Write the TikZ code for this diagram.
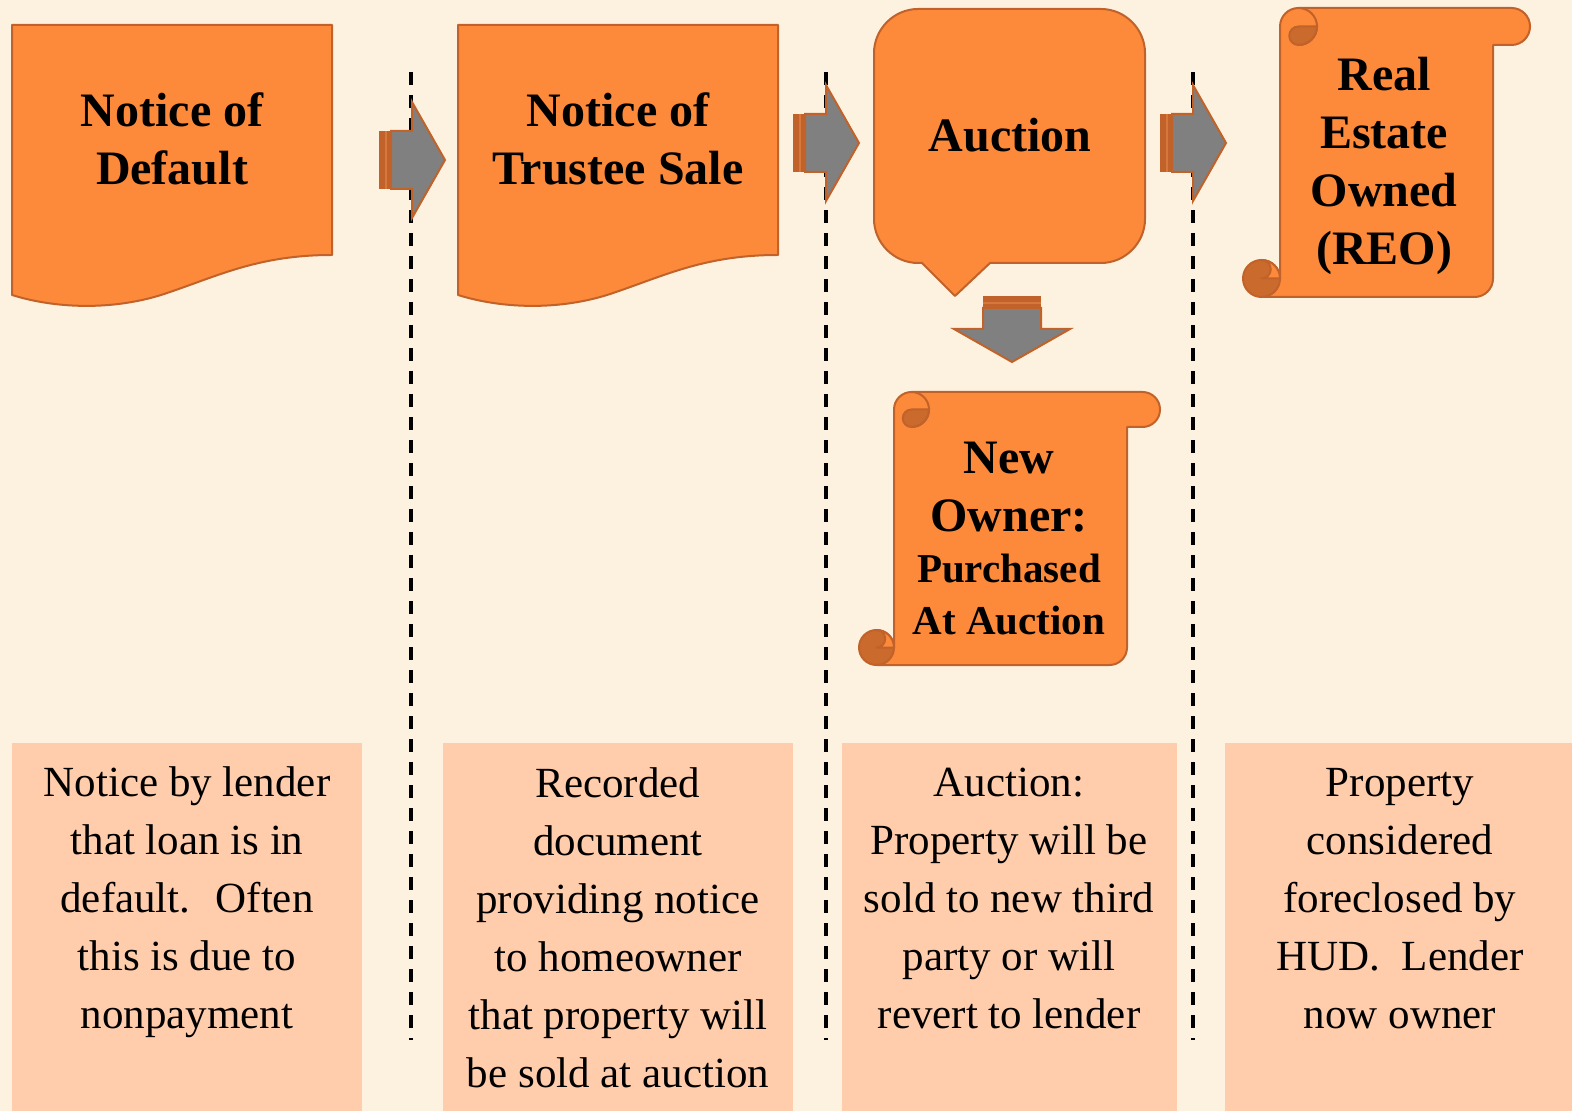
\documentclass[tikz,border=0pt]{standalone}
\usepackage{fontspec}
\setmainfont{Liberation Serif}
\definecolor{bgcol}{RGB}{252,242,223}
\definecolor{orangefill}{RGB}{253,137,58}
\definecolor{edgebrown}{RGB}{192,98,42}
\definecolor{curldark}{RGB}{203,106,45}
\definecolor{peach}{RGB}{255,205,171}
\definecolor{arrowgray}{RGB}{128,128,128}
\definecolor{stripelight}{RGB}{214,120,60}
\tikzset{
  shapestyle/.style={fill=orangefill, draw=edgebrown, line width=1pt, line join=round},
  curlstyle/.style={fill=curldark, draw=edgebrown, line width=1pt},
  edgestyle/.style={draw=edgebrown, line width=1pt},
  titletext/.style={font=\fontsize{24}{29}\selectfont\bfseries, align=center, text=black},
  smalltitle/.style={font=\fontsize{20.5}{26}\selectfont\bfseries, align=center, text=black},
  bodytext/.style={font=\fontsize{21.5}{29}\selectfont, align=center, text=black},
  divider/.style={black, line width=1.6pt, dash pattern=on 6.5pt off 5pt},
  infobox/.style={fill=peach, draw=none},
  docpic/.pic={
    \filldraw[shapestyle] (0,0) -- (320,0) -- (320,230)
      .. controls (248,230) and (208,250) .. (158,267)
      .. controls (108,285) and (48,285) .. (0,270) -- cycle;
  },
  blockarrow/.pic={
    \fill[edgebrown] (0,-29) rectangle (12,29);
    \draw[stripelight, line width=0.7pt] (7,-29) -- (7,29);
    \filldraw[fill=arrowgray, draw=edgebrown, line width=1pt, line join=miter]
      (12,-29) -- (33,-29) -- (33,-58) -- (66,0) -- (33,58) -- (33,29) -- (12,29) -- cycle;
  }
}
\newcommand{\scrollshape}[6]{% L R T B E r
  \pgfmathsetmacro\rr{#6/2}%
  \pgfmathsetmacro\rh{#6/4}%
  \filldraw[shapestyle] (#1,{#4-#6}) -- (#1,{#3+#6}) arc[start angle=180,end angle=90,radius=\rr pt]
    -- ({#5-#6},#3) arc[start angle=90,end angle=-90,radius=\rr pt]
    -- (#2,{#3+2*#6}) -- (#2,{#4-#6}) arc[start angle=0,end angle=-90,radius=\rr pt]
    -- ({#1-#6},#4) -- cycle;
  \filldraw[curlstyle] ({#1+2*#6},{#3+#6}) arc[start angle=0,end angle=-90,radius=\rr pt]
    arc[start angle=270,end angle=90,radius=\rh pt] -- cycle;
  \draw[edgestyle] ({#1+#6},#3) arc[start angle=90,end angle=-90,radius=\rr pt];
  \filldraw[curlstyle] ({#1-#6},{#4-#6}) circle[radius=\rr pt];
  \filldraw[shapestyle] ({#1-#6},{#4-2*#6}) arc[start angle=90,end angle=0,radius=\rr pt]
    -- ({#1-#6},{#4-#6}) arc[start angle=-90,end angle=90,radius=\rh pt] -- cycle;
}
\begin{document}
\begin{tikzpicture}[x=0.5pt, y=-0.5pt]
  \path[use as bounding box] (0,0) rectangle (1572,1111);
  \fill[bgcol] (0,0) rectangle (1572,1111);

  % info boxes
  \fill[infobox] (12,743) rectangle (362,1111);
  \fill[infobox] (443,743) rectangle (793,1111);
  \fill[infobox] (842,743) rectangle (1177,1111);
  \fill[infobox] (1225,743) rectangle (1572,1111);

  % dividers
  \coordinate (d1t) at (411,72);  \coordinate (d1b) at (411,1040);
  \coordinate (d2t) at (826,72);  \coordinate (d2b) at (826,1040);
  \coordinate (d3t) at (1193,72); \coordinate (d3b) at (1193,1040);
  \draw[divider] (d1t) -- (d1b);
  \draw[divider] (d2t) -- (d2b);
  \draw[divider] (d3t) -- (d3b);

  % document shapes
  \pic at (12,25) {docpic};
  \pic at (458,25) {docpic};

  % callout
  \filldraw[shapestyle] (955,296) -- (922,263) -- (918,263)
    .. controls (894,263) and (874,243) .. (874,219) -- (874,53)
    .. controls (874,29) and (894,9) .. (918,9) -- (1101,9)
    .. controls (1125,9) and (1145,29) .. (1145,53) -- (1145,219)
    .. controls (1145,243) and (1125,263) .. (1101,263) -- (990,263) -- cycle;

  % scrolls
  \scrollshape{1280}{1493}{8}{297}{1530}{18.5}
  \scrollshape{894}{1127}{392}{665}{1160}{17.5}

  % block arrows
  \pic at (379,160) {blockarrow};
  \pic at (793,143) {blockarrow};
  \pic at (1160,143) {blockarrow};
  \pic[rotate=-90] at (1012,296) {blockarrow};

  % titles
  \node[titletext] (t1) at (172,139) {Notice of\\Default};
  \node[titletext] (t2) at (618,139) {Notice of\\Trustee Sale};
  \node[titletext] (t3) at (1010,135) {Auction};
  \node[titletext] (t4) at (1384,166) {Real\\Estate\\Owned\\(REO)};
  \node[titletext] (t5) at (1009,487) {New\\Owner:};
  \node[smalltitle] (t6) at (1009,595) {Purchased\\At Auction};

  % body texts
  \node[bodytext] (b1) at (187,902) {Notice by lender\\that loan is in\\default.~ Often\\this is due to\\nonpayment};
  \node[bodytext] (b2) at (618,928) {Recorded\\document\\providing notice\\to homeowner\\that property will\\be sold at auction};
  \node[bodytext] (b3) at (1009,898) {Auction:\\Property will be\\sold to new third\\party or will\\revert to lender};
  \node[bodytext] (b4) at (1400,899) {Property\\considered\\foreclosed by\\HUD.~ Lender\\now owner};
\end{tikzpicture}
\end{document}
